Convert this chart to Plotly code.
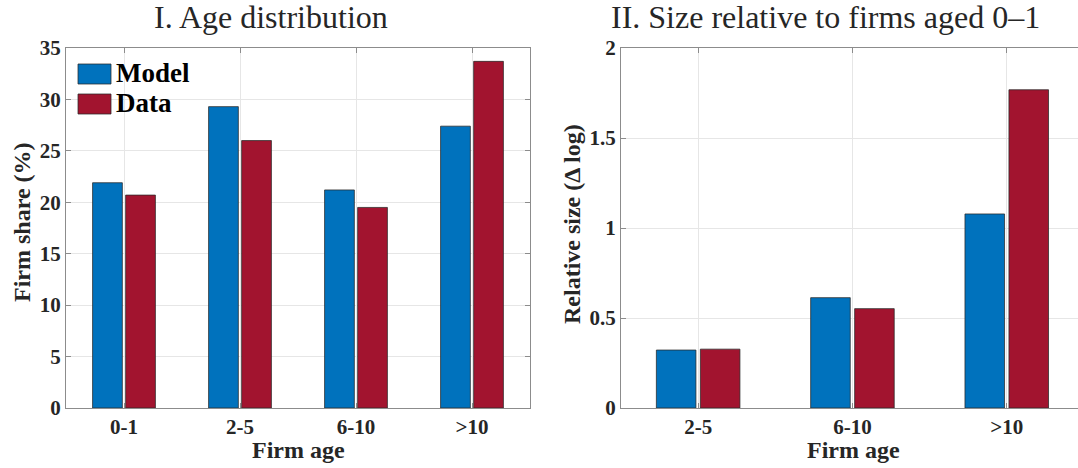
import plotly.graph_objects as go

# ---- data ----
age_cats_1 = ["0-1", "2-5", "6-10", ">10"]
share_model = [21.9, 29.3, 21.2, 27.4]
share_data = [20.7, 26.0, 19.5, 33.7]

age_cats_2 = ["2-5", "6-10", ">10"]
size_model = [0.322, 0.613, 1.078]
size_data = [0.327, 0.552, 1.768]

series_names = ["Model", "Data"]
series_colors = ["#0072BD", "#A2142F"]

left_yticks = [0, 5, 10, 15, 20, 25, 30, 35]
right_yticks = [0, 0.5, 1, 1.5, 2]
right_yticklabels = ["0", "0.5", "1", "1.5", "2"]

FONT = "Liberation Serif"
TXT = "#262626"
AX = "#8c8c8c"
GRID = "#e6e6e6"

# The figure is made a little wider than the 1078px window so that the right panel
# runs past the window edge (as in the reference), with no frame line visible there.
W, H = 1092, 468

fig = go.Figure()
edge = dict(color="rgba(40,40,40,0.75)", width=1)
for name, vals, col in zip(series_names, [share_model, share_data], series_colors):
    fig.add_trace(go.Bar(x=age_cats_1, y=vals, name=name, marker=dict(color=col, line=edge),
                         xaxis="x", yaxis="y", showlegend=False))
for name, vals, col in zip(series_names, [size_model, size_data], series_colors):
    fig.add_trace(go.Bar(x=age_cats_2, y=vals, name=name, marker=dict(color=col, line=edge),
                         xaxis="x2", yaxis="y2", showlegend=False))


def px_x(p):
    return p / W


def px_y(p):
    return 1 - p / H


ydom = [px_y(408), px_y(48)]
tickfont = dict(family=FONT, size=21, color=TXT)
titlefont = dict(family=FONT, size=24, color=TXT)

common_x = dict(type="category", showgrid=True, gridcolor=GRID, gridwidth=1,
                showline=True, linecolor=AX, linewidth=1.2, ticks="inside", ticklen=5,
                tickcolor=AX, tickfont=tickfont, zeroline=False, fixedrange=True,
                automargin=False)
common_y = dict(showgrid=True, gridcolor=GRID, gridwidth=1, showline=True, linecolor=AX,
                linewidth=1.2, ticks="inside", ticklen=5, tickcolor=AX, tickfont=tickfont,
                zeroline=False, fixedrange=True, automargin=False)

# right panel: category spacing ~154.3 px, first category 77 px from the left axis
right_end = -0.5 + (W - 621) / 154.3

fig.update_layout(
    template="none",
    width=W, height=H, autosize=False,
    margin=dict(l=0, r=0, t=0, b=0, pad=0),
    paper_bgcolor="white", plot_bgcolor="white",
    barmode="group", bargap=0.43, bargroupgap=0.1,
    font=dict(family=FONT, color=TXT),
    showlegend=False,
    xaxis=dict(common_x, domain=[px_x(66), px_x(530)], anchor="y", mirror="ticks",
               range=[-0.5, 3.5], tickvals=age_cats_1,
               ticktext=[f"<b>{c}</b>" for c in age_cats_1]),
    yaxis=dict(common_y, domain=ydom, anchor="x", mirror="ticks", range=[0, 35],
               tickvals=left_yticks, ticktext=[f"<b>{v}</b>" for v in left_yticks]),
    xaxis2=dict(common_x, domain=[px_x(621), 1.0], anchor="y2", mirror="ticks",
                range=[-0.5, right_end], tickvals=age_cats_2,
                ticktext=[f"<b>{c}</b>" for c in age_cats_2]),
    yaxis2=dict(common_y, domain=ydom, anchor="x2", mirror=False, range=[0, 2],
                tickvals=right_yticks, ticktext=[f"<b>{t}</b>" for t in right_yticklabels]),
)

# axis titles
fig.add_annotation(text="<b>Firm age</b>", x=px_x(298), y=px_y(450), xref="paper", yref="paper",
                   showarrow=False, font=titlefont, xanchor="center", yanchor="middle")
fig.add_annotation(text="<b>Firm age</b>", x=px_x(853), y=px_y(450), xref="paper", yref="paper",
                   showarrow=False, font=titlefont, xanchor="center", yanchor="middle")
fig.add_annotation(text="<b>Firm share (%)</b>", x=px_x(22), y=px_y(222), xref="paper", yref="paper",
                   showarrow=False, font=titlefont, textangle=-90, xanchor="center", yanchor="middle")
fig.add_annotation(text="<b>Relative size (\u0394 log)</b>", x=px_x(572), y=px_y(224), xref="paper",
                   yref="paper", showarrow=False, font=titlefont, textangle=-90,
                   xanchor="center", yanchor="middle")

# panel titles
fig.add_annotation(text="I. Age distribution", x=px_x(271), y=px_y(17), xref="paper", yref="paper",
                   showarrow=False, font=dict(family=FONT, size=32, color=TXT),
                   xanchor="center", yanchor="middle")
fig.add_annotation(text="II. Size relative to firms aged 0\u20131", x=px_x(825), y=px_y(17),
                   xref="paper", yref="paper", showarrow=False,
                   font=dict(family=FONT, size=32, color=TXT), xanchor="center", yanchor="middle")

# legend (drawn manually, MATLAB style with large swatches)
for i, (name, col) in enumerate(zip(series_names, series_colors)):
    y0 = 64 + i * 30
    fig.add_shape(type="rect", xref="paper", yref="paper",
                  x0=px_x(78), x1=px_x(111), y0=px_y(y0 + 20), y1=px_y(y0),
                  fillcolor=col, line=dict(color="rgba(40,40,40,0.75)", width=1))
    fig.add_annotation(text=f"<b>{name}</b>", x=px_x(114), y=px_y(y0 + 9), xref="paper", yref="paper",
                       showarrow=False, xanchor="left", yanchor="middle",
                       font=dict(family=FONT, size=27, color="#000000"))

fig.write_html("out.html",
               config={"displayModeBar": False},
               post_script="document.body.style.margin='0px';document.body.style.padding='0px';"
                           "document.body.style.overflow='hidden';")
